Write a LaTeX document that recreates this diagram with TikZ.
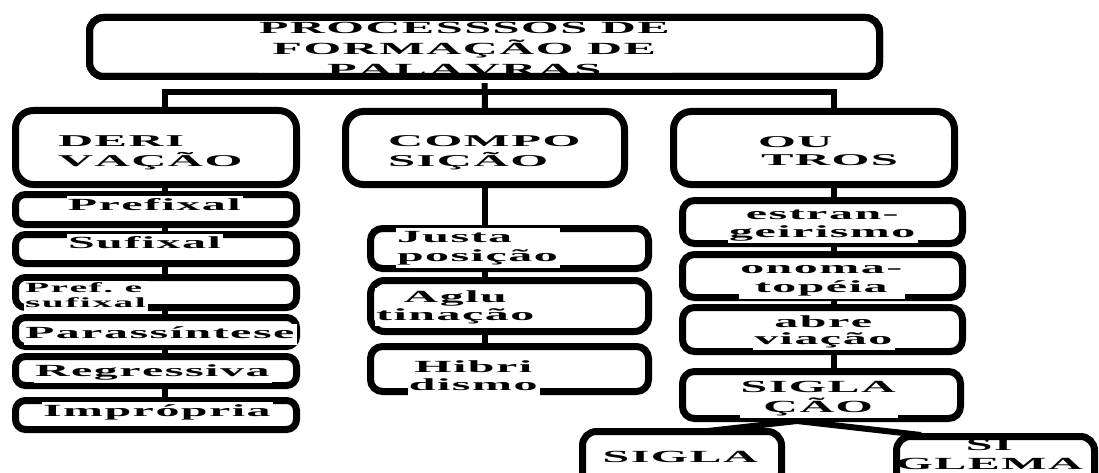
\documentclass[tikz,border=0pt]{standalone}
\usepackage{fontspec}
\newfontfamily\fT{Liberation Serif}[FakeStretch=2.85,Ligatures=NoCommon]
\newfontfamily\fB{Liberation Serif}[FakeStretch=2.95,Ligatures=NoCommon]
\newfontfamily\fC{Liberation Serif}[FakeStretch=2.82,Ligatures=NoCommon]
\newdimen\lsk
\def\lsend{\lsend}
\def\lsloop#1{\ifx#1\lsend\else#1\kern\lsk\expandafter\lsloop\fi}
\newcommand{\ls}[1]{\lsloop#1\lsend}
\newcommand{\tx}[6]{{#1\fontsize{#2}{#3}\selectfont\bfseries\lsk=#4\relax\begin{tabular}[t]{@{}#5@{}}#6\end{tabular}}}
\pgfdeclarelayer{bg}
\pgfsetlayers{bg,main}
\begin{document}
\begin{tikzpicture}[x=1pt,y=-1pt,
  box/.style={draw, line width=7pt, fill=white, rounded corners=#1, inner sep=0pt, outer sep=0pt},
  box/.default=10pt,
  conn/.style={line width=6pt},
  txt/.style={fill=white, inner sep=1pt, outer sep=0pt}]
\useasboundingbox (0,0) rectangle (1099,473);
% boxes
\node[box=14pt, minimum width=790pt, minimum height=59pt] (title) at (484.5,47) {};
\node[box=18pt, minimum width=281pt, minimum height=74pt] (deriv) at (156,147.5) {};
\node[box=18pt, minimum width=279pt, minimum height=73pt] (comp) at (485,148) {};
\node[box=18pt, minimum width=281pt, minimum height=73pt] (outros) at (814,148) {};
\node[box, minimum width=281pt, minimum height=30pt] (prefixal) at (156,209.5) {};
\node[box, minimum width=281pt, minimum height=29pt] (sufixal) at (156,249) {};
\node[box, minimum width=281pt, minimum height=30pt] (prefsuf) at (156,292.5) {};
\node[box, minimum width=281pt, minimum height=29pt] (parass) at (156,332) {};
\node[box, minimum width=281pt, minimum height=29pt] (regress) at (156,371) {};
\node[box, minimum width=281pt, minimum height=29pt] (impropria) at (156,415) {};
\node[box=12pt, minimum width=278pt, minimum height=40pt] (justa) at (509.5,248.5) {};
\node[box=14pt, minimum width=278pt, minimum height=51pt] (aglu) at (509.5,306) {};
\node[box=12pt, minimum width=278pt, minimum height=45pt] (hibri) at (509.5,369) {};
\node[box=12pt, minimum width=280pt, minimum height=43pt] (estr) at (822.5,222) {};
\node[box=12pt, minimum width=280pt, minimum height=43pt] (onoma) at (822.5,276) {};
\node[box=12pt, minimum width=280pt, minimum height=44pt] (abrev) at (822.5,329.5) {};
\node[box=12pt, minimum width=278pt, minimum height=47pt] (siglacao) at (821.5,395) {};
\node[box=14pt, minimum width=199pt, minimum height=55pt] (sigla) at (682,459) {};
\node[box=14pt, minimum width=198pt, minimum height=55pt] (siglema) at (995.5,464) {};
% connectors
\coordinate (bl) at (165,92);
\coordinate (br) at (834,92);
\coordinate (sj) at (797,421);
\coordinate (sl) at (708,431);
\coordinate (sr) at (921,435);
\begin{pgfonlayer}{bg}
\draw[conn] (title.south) -- (comp.north);
\draw[conn] (deriv.north -| bl) -- (bl) -- (br) -- (outros.north -| br);
\draw[conn] (deriv.south -| bl) -- (impropria.north -| bl);
\draw[conn] (comp.south) -- (hibri.north -| comp.south);
\draw[conn] (outros.south -| br) -- (siglacao.north -| br);
\end{pgfonlayer}
\draw[conn] (sj) -- (sl);
\draw[conn] (sj) -- (sr);
% texts
\node[txt, anchor=base] (t0) at (465,34) {\tx{\fT}{17pt}{21pt}{1.5pt}{c}{\ls{PROCESSSOS}\ \ls{DE}\\\ls{FORMAÇÃO}\ \ls{DE}\\\ls{PALAVRAS}}};
\draw[line width=7pt, rounded corners=14pt] (title.south west) rectangle (title.north east);
\node[txt, anchor=base west] (t1) at (57,147) {\tx{\fB}{16.5pt}{18pt}{1.5pt}{l}{\ls{DERI}\\\ls{VAÇÃO}}};
\node[txt, anchor=base west] (t2) at (387,147) {\tx{\fB}{16.5pt}{18pt}{1.5pt}{l}{\ls{COMPO}\\\ls{SIÇÃO}}};
\node[txt, anchor=base west] (t3) at (757,148) {\tx{\fB}{16.5pt}{18pt}{1.5pt}{l}{\ls{OU}\\\hspace{3pt}\ls{TROS}}};
\node[txt, anchor=base] (t4) at (155,210) {\tx{\fC}{17pt}{19pt}{1.5pt}{l}{\ls{Prefixal}}};
\node[txt, anchor=base west] (t5) at (67,248) {\tx{\fC}{17pt}{19pt}{1.5pt}{l}{\ls{Sufixal}}};
\node[txt, anchor=base west] (t6) at (24,292) {\tx{\fC}{14pt}{15pt}{1.5pt}{l}{\ls{Pref.}\ \ls{e}\\\ls{sufixal}}};
\node[txt, anchor=base west] (t7) at (24,338) {\tx{\fC}{17pt}{19pt}{1.5pt}{l}{\ls{Parassíntese}}};
\node[txt, anchor=base west] (t8) at (34,376) {\tx{\fC}{17pt}{19pt}{1.5pt}{l}{\ls{Regressiva}}};
\node[txt, anchor=base west] (t9) at (42,416) {\tx{\fC}{17pt}{19pt}{1.5pt}{l}{\ls{Imprópria}}};
\node[txt, anchor=base west] (t10) at (396,242) {\tx{\fC}{17pt}{19pt}{1.5pt}{l}{\ls{Justa}\\\ls{posição}}};
\node[txt, anchor=base] (t11) at (456,302) {\tx{\fC}{17pt}{18pt}{1.5pt}{c}{\ls{Aglu}\\\ls{tinação}}};
\node[txt, anchor=base] (t12) at (474,372) {\tx{\fC}{17pt}{18pt}{1.5pt}{c}{\ls{Hibri}\\\ls{dismo}}};
\node[txt, anchor=base] (t13) at (823,219) {\tx{\fC}{17pt}{18pt}{1.5pt}{c}{\ls{estran-}\\\ls{geirismo}}};
\node[txt, anchor=base] (t14) at (822,273) {\tx{\fC}{17pt}{19pt}{1.5pt}{c}{\ls{onoma-}\\\ls{topéia}}};
\node[txt, anchor=base] (t15) at (824,327) {\tx{\fC}{17pt}{17pt}{1.5pt}{c}{\ls{abre}\\\ls{viação}}};
\node[txt, anchor=base] (t16) at (819,392) {\tx{\fC}{17pt}{18pt}{1.5pt}{c}{\ls{SIGLA}\\\ls{ÇÃO}}};
\node[txt, anchor=base] (t17) at (681,462) {\tx{\fC}{17pt}{19pt}{1.5pt}{c}{\ls{SIGLA}}};
\node[txt, fill=none, anchor=base] (t18) at (990,450) {\tx{\fC}{17pt}{19pt}{1.5pt}{c}{\ls{SI}\\\ls{GLEMA}}};
\end{tikzpicture}
\end{document}
